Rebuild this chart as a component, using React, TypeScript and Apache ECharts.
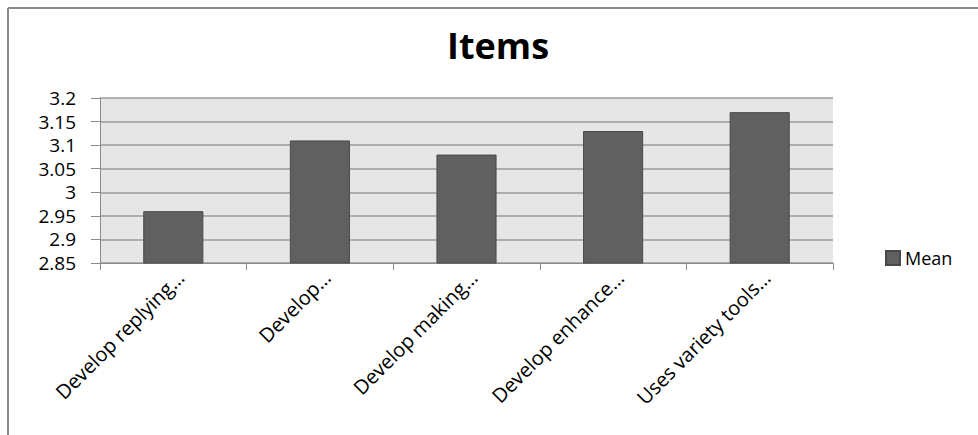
import React, { useEffect, useRef } from "react";
import * as echarts from "echarts";

const categories = [
  "Develop replying…",
  "Develop…",
  "Develop making…",
  "Develop enhance…",
  "Uses variety tools…",
];
const meanValues = [2.96, 3.11, 3.08, 3.13, 3.17];
const seriesName = "Mean";
const chartTitle = "Items";

export default function App() {
  const ref = useRef<HTMLDivElement>(null);
  useEffect(() => {
    if (!ref.current) return;
    const chart = echarts.init(ref.current, null, { renderer: "svg" });
    const font = "'Open Sans', 'Noto Sans', sans-serif";
    chart.setOption({
      animation: false,
      backgroundColor: "#ffffff",
      title: {
        text: chartTitle,
        left: 442,
        top: 22,
        textStyle: { fontFamily: font, fontSize: 36, fontWeight: "bold", color: "#000" },
      },
      legend: {
        data: [seriesName],
        orient: "vertical",
        left: 880,
        top: 244,
        itemWidth: 14,
        itemHeight: 14,
        itemGap: 4,
        icon: "rect",
        textStyle: { fontFamily: font, fontSize: 18, color: "#000" },
      },
      grid: {
        left: 100,
        top: 98,
        width: 733,
        height: 165,
        show: true,
        backgroundColor: "#e6e6e6",
        borderWidth: 0,
      },
      xAxis: {
        type: "category",
        data: categories,
        axisLine: { lineStyle: { color: "#8a8a8a", width: 1 } },
        axisTick: { show: true, length: 7, lineStyle: { color: "#8a8a8a" } },
        axisLabel: {
          rotate: 45,
          fontFamily: font,
          fontSize: 20,
          color: "#000",
          margin: 4,
          interval: 0,
          verticalAlign: "top",
        },
      },
      yAxis: {
        type: "value",
        min: 2.85,
        max: 3.2,
        interval: 0.05,
        axisLine: { show: true, lineStyle: { color: "#8a8a8a", width: 1 } },
        axisTick: { show: true, length: 9, lineStyle: { color: "#8a8a8a" } },
        splitLine: { show: true, lineStyle: { color: "#9a9a9a", width: 1.5 } },
        axisLabel: {
          fontFamily: font,
          fontSize: 19,
          lineHeight: 19,
          color: "#000",
          margin: 24,
          formatter: (v: number) => String(parseFloat(v.toFixed(2))),
        },
      },
      series: [
        {
          name: seriesName,
          type: "bar",
          data: meanValues,
          barCategoryGap: "59%",
          itemStyle: { color: "#606060", borderColor: "#4a4a4a", borderWidth: 1 },
        },
      ],
      graphic: [
        { type: "line", shape: { x1: 8, y1: 8, x2: 978, y2: 8 }, style: { stroke: "#888", lineWidth: 2 } },
        { type: "line", shape: { x1: 8, y1: 8, x2: 8, y2: 435 }, style: { stroke: "#888", lineWidth: 2 } },
      ],
    });
    return () => chart.dispose();
  }, []);
  return (
    <div
      ref={ref}
      style={{ position: "fixed", left: 0, top: 0, width: 978, height: 435 }}
    />
  );
}
